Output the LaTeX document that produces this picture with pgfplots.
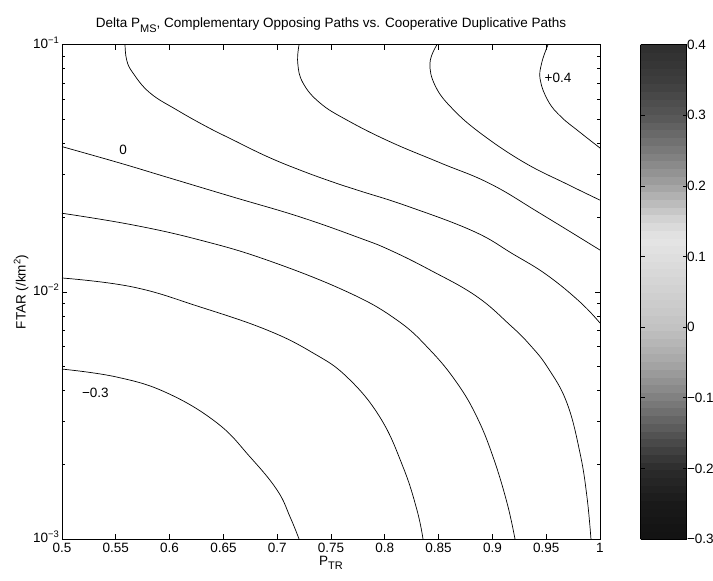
\documentclass[border=0pt]{standalone}
\usepackage{fontspec}
\setmainfont{Liberation Sans}
\usepackage{pgfplots}
\pgfplotsset{compat=1.18}
\pgfplotsset{colormap={msgray}{gray(0pt)=(0.07); gray(5pt)=(0.10); gray(10pt)=(0.17); gray(15pt)=(0.33); gray(20pt)=(0.50); gray(25pt)=(0.65); gray(30pt)=(0.76); gray(35pt)=(0.82); gray(40pt)=(0.87); gray(42.5pt)=(0.90); gray(45pt)=(0.84); gray(47.5pt)=(0.74); gray(50pt)=(0.64); gray(55pt)=(0.48); gray(60pt)=(0.34); gray(65pt)=(0.24); gray(70pt)=(0.18)}}
\tikzset{cl/.style={black, line width=0.7pt, smooth, tension=0.7, mark=none}}
\begin{document}
\begin{tikzpicture}[font=\fontsize{13.5}{16}\selectfont]
\path[use as bounding box] (-62pt,-42pt) rectangle (651pt,539pt);
\begin{axis}[
  at={(0pt,0pt)}, anchor=south west,
  scale only axis, width=538pt, height=494.3pt,
  xmin=0.5, xmax=1, ymin=1e-3, ymax=1e-1,
  ymode=log,
  xtick={0.5,0.55,...,1.01},
  xticklabels={0.5,0.55,0.6,0.65,0.7,0.75,0.8,0.85,0.9,0.95,1},
  ytick={1e-3,1e-2,1e-1},
  yticklabels={10\textsuperscript{−3},10\textsuperscript{−2},10\textsuperscript{−1}},
  minor ytick={2e-3,3e-3,4e-3,5e-3,6e-3,7e-3,8e-3,9e-3,2e-2,3e-2,4e-2,5e-2,6e-2,7e-2,8e-2,9e-2},
  tick align=inside, tick pos=both,
  major tick length=5pt, minor tick length=3pt,
  every tick/.style={black, line width=0.6pt},
  axis line style={black, line width=0.8pt},
  xticklabel style={yshift=-1pt},
  yticklabel style={xshift=1pt, yshift=2pt},
  xlabel={P\raisebox{-0.6ex}{\fontsize{11}{13}\selectfont TR}},
  ylabel={FTAR (/km\textsuperscript{2})},
  title={Delta P\raisebox{-0.6ex}{\fontsize{11}{13}\selectfont MS}, Complementary Opposing Paths vs. Cooperative Duplicative Paths},
  title style={yshift=3pt},
  xlabel style={yshift=4pt},
  ylabel style={yshift=-2pt},
  colormap name=msgray,
  point meta min=-0.3, point meta max=0.4,
  colorbar sampled,
  colorbar style={
    samples=65,
    at={(parent axis.north east)}, anchor=north west, xshift=32pt,
    width=46pt, scale only axis,
    ytick={-0.3,-0.2,-0.1,0,0.1,0.2,0.3,0.4},
    yticklabels={−0.3,−0.2,−0.1,0,0.1,0.2,0.3,0.4},
    ytick pos=both, yticklabel pos=right,
    tick align=inside, major tick length=4pt,
    axis line style={black, line width=0.8pt},
    every tick/.style={black, line width=0.6pt},
    yticklabel style={xshift=-3pt},
  },
]
% +0.4
\addplot[cl] coordinates {(0.9517,0.1) (0.9458,0.0843) (0.9445,0.0720) (0.9520,0.0590) (0.9640,0.0510) (0.9800,0.0447) (1.0,0.0382)};
% 0.3
\addplot[cl] coordinates {(0.8485,0.1) (0.8420,0.0843) (0.8470,0.0680) (0.8630,0.0550) (0.8900,0.0435) (0.9300,0.0333) (0.9700,0.0272) (1.0,0.0235)};
% 0.2
\addplot[cl] coordinates {(0.7203,0.1) (0.7191,0.0843) (0.7240,0.0700) (0.7398,0.0581) (0.7650,0.0495) (0.8048,0.0405) (0.8513,0.0333) (0.8978,0.0274) (0.9442,0.0208) (1.0,0.01476)};
% 0.1
\addplot[cl] coordinates {(0.5586,0.1) (0.5601,0.0867) (0.5660,0.0768) (0.5818,0.0638) (0.6069,0.0544) (0.6348,0.0465) (0.6589,0.0412) (0.6905,0.0353) (0.7212,0.0311) (0.7519,0.0278) (0.7770,0.0256) (0.8206,0.02225) (0.8820,0.01762) (0.9191,0.01423) (0.9507,0.01170) (0.9814,0.00910) (1.0,0.00748)};
% 0
\addplot[cl] coordinates {(0.5,0.0387) (0.5539,0.0332) (0.5976,0.0291) (0.6589,0.0242) (0.7212,0.0201) (0.7770,0.0165) (0.8048,0.01476) (0.8420,0.01226) (0.8848,0.00962) (0.9164,0.00734) (0.9349,0.00610) (0.9517,0.00492) (0.9693,0.00355) (0.9814,0.00223) (0.9879,0.00148) (0.9916,0.001)};
% -0.1
\addplot[cl] coordinates {(0.5,0.0208) (0.5660,0.01865) (0.6283,0.0162) (0.6905,0.01345) (0.7649,0.01001) (0.8113,0.00769) (0.8420,0.00582) (0.8671,0.00428) (0.8857,0.00311) (0.9006,0.00215) (0.9136,0.00140) (0.9210,0.001)};
% -0.2
\addplot[cl] coordinates {(0.5,0.01138) (0.5660,0.01046) (0.6283,0.00869) (0.6905,0.00701) (0.7333,0.00566) (0.7649,0.00452) (0.7955,0.00311) (0.8169,0.00196) (0.8299,0.00131) (0.8355,0.001)};
% -0.3
\addplot[cl] coordinates {(0.5,0.00487) (0.5511,0.00452) (0.5976,0.00390) (0.6440,0.00295) (0.6747,0.00215) (0.6998,0.00158) (0.7119,0.00123) (0.7203,0.001)};
\node at (axis cs:0.5567,0.0375) {0};
\node at (axis cs:0.961,0.0733) {+0.4};
\node at (axis cs:0.531,0.0039) {−0.3};
\end{axis}
\end{tikzpicture}
\end{document}
